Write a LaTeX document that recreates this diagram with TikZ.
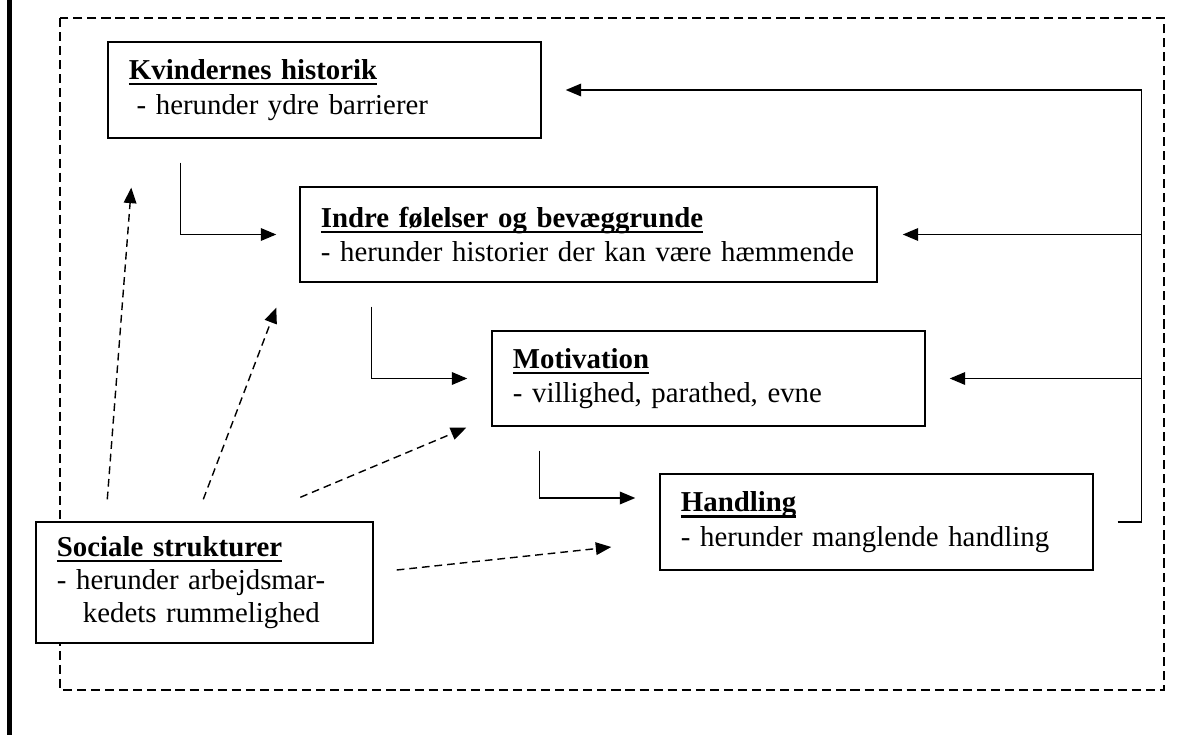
\documentclass[tikz,border=0pt]{standalone}
\usepackage{fontspec}
\setmainfont{Liberation Serif}
\usepackage{tikz}
\usetikzlibrary{arrows.meta, positioning, calc}

\newcommand{\titel}[1]{\setbox0\hbox{\textbf{#1}}\rlap{\rule[-0.2em]{\wd0}{0.07em}}\box0}

\tikzset{
    boks/.style={draw, fill=white, line width=0.95pt, inner xsep=0.525cm, inner ysep=0pt, align=left,
        font=\fontsize{20.5pt}{24.4pt}\selectfont},
    pil/.style={line width=0.95pt, ->},
    stiplet/.style={line width=1pt, ->, dash pattern=on 5.5pt off 3.5pt},
}

\begin{document}
\begin{tikzpicture}[x=0.025cm, y=-0.025cm, >={Triangle[length=11pt,width=9pt]}]
\useasboundingbox (0,0) rectangle (1204,735);
\draw[line width=4pt] (9.6,0) -- (9.6,735);
\draw[line width=0.9pt, dash pattern=on 6.5pt off 3.5pt] (60,18) rectangle (1164,690);

% boksene
\node[boks, text width=9.775cm, minimum height=2.4cm] (kvind) at (324.5,90)
    {\titel{Kvindernes historik}\\\hspace*{0.27em}- herunder ydre barrierer};
\node[boks, text width=13.375cm, minimum height=2.375cm] (indre) at (588.5,234.5)
    {\titel{Indre følelser og bevæggrunde}\\\mbox{- herunder historier der kan være hæmmende}};
\node[boks, text width=9.775cm, minimum height=2.375cm] (motiv) at (708.5,378.5)
    {\titel{Motivation}\\- villighed, parathed, evne};
\node[boks, text width=9.775cm, minimum height=2.4cm] (handl) at (876.5,522)
    {\titel{Handling}\\- herunder manglende handling};
\node[boks, text width=7.375cm, minimum height=3.025cm,
    font=\fontsize{20.5pt}{23.5pt}\selectfont] (social) at (204.5,582.5)
    {\titel{Sociale strukturer}\\- herunder arbejdsmar-\\\hspace*{0.9em}kedets rummelighed};

% forloeb
\draw[pil] ($(kvind.south west)+(73,24)$) |- ($(indre.west)+(-23,0)$);
\draw[pil] ($(indre.south west)+(72,24)$) |- ($(motiv.west)+(-24,0)$);
\draw[pil] ($(motiv.south west)+(48,24)$) |- ($(handl.west)+(-24,-24)$);

% tilbagekobling
\coordinate (tilbage) at ($(handl.east)+(48,0)$);
\draw[pil] ($(handl.east)+(24,0)$) -- (tilbage) |- ($(kvind.east)+(24,0)$);
\draw[pil] (tilbage |- indre.east) -- ($(indre.east)+(25,0)$);
\draw[pil] (tilbage |- motiv.east) -- ($(motiv.east)+(24,0)$);

% sociale strukturer
\draw[stiplet] ($(social.north west)+(72,-22)$) -- ($(kvind.south west)+(24,49)$);
\draw[stiplet] ($(social.north west)+(168,-22)$) -- ($(indre.south west)+(-23,25)$);
\draw[stiplet] ($(social.north west)+(265,-24)$) -- ($(motiv.south west)+(-25,1)$);
\draw[stiplet] ($(social.east)+(23,-12.5)$) -- ($(handl.west)+(-48,25)$);
\end{tikzpicture}
\end{document}
